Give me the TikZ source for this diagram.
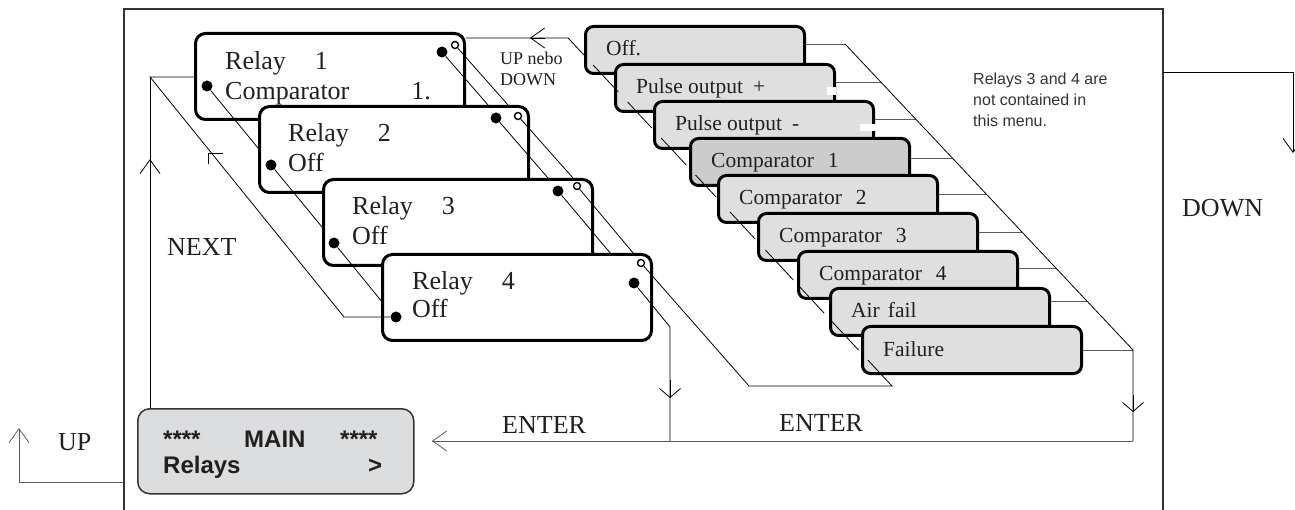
\documentclass[tikz,border=0pt]{standalone}
\usepackage{fontspec}
\setmainfont{Liberation Serif}
\setsansfont{Liberation Sans}
\usetikzlibrary{arrows.meta}
\definecolor{txt}{HTML}{231F20}
\definecolor{menufill}{HTML}{DFDFDF}
\definecolor{selfill}{HTML}{CCCCCC}
\definecolor{mainfill}{HTML}{DCDDDE}
\definecolor{framec}{HTML}{333333}
\definecolor{linec}{HTML}{5A5A5A}
\begin{document}
\begin{tikzpicture}[x=1pt,y=-1pt,
  relaybox/.style={draw=black, line width=3pt, fill=white, rounded corners=10pt, minimum width=269pt, minimum height=86pt, anchor=north west, inner sep=0pt},
  menubox/.style={draw=black, line width=3pt, fill=menufill, rounded corners=8pt, minimum width=219pt, minimum height=47pt, anchor=north west, inner sep=0pt},
  rtext/.style={anchor=base west, inner sep=0pt, text=txt, font=\fontsize{26}{26}\selectfont},
  mtext/.style={anchor=base west, inner sep=0pt, text=txt, font=\fontsize{21.5}{21.5}\selectfont},
  stext/.style={anchor=base west, inner sep=0pt, text=txt, font=\fontsize{18}{18}\selectfont},
  notetext/.style={anchor=base west, inner sep=0pt, text=framec, font=\sffamily\fontsize{16}{21}\selectfont},
  maintext/.style={anchor=base west, inner sep=0pt, text=txt, font=\sffamily\bfseries\fontsize{24}{24}\selectfont},
  dot/.style={circle, fill=black, inner sep=0pt, minimum size=11pt},
  hol/.style={circle, draw=black, fill=white, line width=1.4pt, inner sep=0pt, minimum size=7pt},
  conn/.style={line width=0.8pt, draw=black},
  gconn/.style={line width=0.9pt, draw=linec},
  arr/.style={-{Straight Barb[length=14pt,width=20pt,line width=0.8pt]}},
  sarr/.style={-{Straight Barb[length=9pt,width=21pt,line width=0.8pt]}}
]
\useasboundingbox (0,0) rectangle (1295,510);

% outer frame
\draw[framec, line width=2.5pt] (124,520) -- (124,9) -- (1163,9) -- (1163,520);

% ---------- Relay boxes ----------
\node[relaybox] (r1) at (194,32) {};
\node[rtext] (t1a) at (225,70) {Relay\hspace{29pt}1};
\node[rtext] (t1b) at (225,100) {Comparator\hspace{62pt}1.};
\node[dot] (d1l) at (207,86) {};
\node[dot] (d1r) at (442,52) {};
\node[hol] (h1) at (455,45) {};
\draw[conn] (d1l) -- (258,148);
\draw[conn] (d1r) -- (488,105);
\draw[conn] (h1) -- (508,105);

\node[relaybox] (r2) at (258,105) {};
\node[rtext] (t2a) at (288,142) {Relay\hspace{29pt}2};
\node[rtext] (t2b) at (288,172) {Off};
\node[dot] (d2l) at (271,165) {};
\node[dot] (d2r) at (496,118) {};
\node[hol] (h2) at (518,116) {};
\draw[conn] (d2l) -- (322,227);
\draw[conn] (d2r) -- (548,178);
\draw[conn] (h2) -- (573,178);

\node[relaybox] (r3) at (322,178) {};
\node[rtext] (t3a) at (352,215) {Relay\hspace{29pt}3};
\node[rtext] (t3b) at (352,245) {Off};
\node[dot] (d3l) at (334,243) {};
\node[dot] (d3r) at (558,191) {};
\node[hol] (h3) at (577,186) {};
\draw[conn] (d3l) -- (383,303);
\draw[conn] (d3r) -- (611,254);
\draw[conn] (h3) -- (634,254);

\node[relaybox] (r4) at (381,253) {};
\node[rtext] (t4a) at (412,290) {Relay\hspace{29pt}4};
\node[rtext] (t4b) at (412,318) {Off};
\node[dot] (d4l) at (396,317) {};
\node[dot] (d4r) at (634,283) {};
\node[hol] (h4) at (641,263) {};

% main screen
\node[draw=framec, line width=1.5pt, fill=mainfill, rounded corners=12pt, minimum width=276pt, minimum height=85pt, anchor=north west, inner sep=0pt] (main) at (137,408) {};
\node[maintext] (ma) at (163,447) {****};
\node[maintext] (mb) at (244,447) {MAIN};
\node[maintext] (mc) at (340,447) {****};
\node[maintext] (md) at (163,473) {Relays};
\node[maintext] (me) at (368,473) {>};

% NEXT loop
\coordinate (nc) at (150,77);
\draw[conn] (d4l) -- (344,317) -- (nc) -- (r1.west |- nc);
\draw[conn] (nc) -- (main.north west -| nc);
\draw[conn, arr] (150,200) -- (150,159);
\draw[conn] (223,153) -- (208,153) -- (208,164);

% ---------- menu boxes ----------
\node[menubox] (m1) at (584,25) {};
\node[mtext] at (606,56) {Off.};
\node[menubox] (m2) at (614,63) {};
\node[mtext] at (636,94) {Pulse output\hspace{10pt}+};
\node[menubox] (m3) at (653,100) {};
\node[mtext] at (675,131) {Pulse output\hspace{10pt}-};
\node[menubox, fill=selfill] (m4) at (689,137) {};
\node[mtext] at (711,168) {Comparator\hspace{14pt}1};
\node[menubox] (m5) at (717,174) {};
\node[mtext] at (739,205) {Comparator\hspace{14pt}2};
\node[menubox] (m6) at (757,212) {};
\node[mtext] at (779,243) {Comparator\hspace{14pt}3};
\node[menubox] (m7) at (797,250) {};
\node[mtext] at (819,281) {Comparator\hspace{14pt}4};
\node[menubox] (m8) at (829,287) {};
\node[mtext] at (851,318) {Air\hspace{8pt}fail};
\node[menubox] (m9) at (861,325) {};
\node[mtext] at (883,356) {Failure};

% white patches on right borders
\fill[white] (827,87) rectangle (836,95);
\fill[white] (860,124) rectangle (876,131);

% left chain of the menu
\coordinate (uc) at (568,38);
\draw[conn] (r1.east |- uc) -- (uc) -- (584,55);
\draw[conn, arr] (545,38) -- (530,38);
\draw[conn] (593.1,65) -- (618.3,92);
\draw[conn] (627.6,102) -- (651.8,128);
\draw[conn] (661.1,138) -- (686.2,165);
\draw[conn] (695.5,175) -- (716.0,197);
\draw[conn] (730.0,212) -- (755.1,239);
\draw[conn] (765.4,250) -- (793.3,280);
\draw[conn] (798.9,286) -- (824.0,313);
\draw[conn] (830.5,320) -- (858.5,350);
\draw[conn] (h4) -- (749,386) -- (892,386) -- (867.8,360);

% right side of the menu
\draw[gconn] (m1.east |- 0,44) -- (845,44);
\draw[gconn] (m2.east |- 0,82) -- (880.8,82);
\draw[gconn] (m3.east |- 0,119) -- (915.6,119);
\draw[gconn] (m4.east |- 0,158) -- (952.3,158);
\draw[gconn] (m5.east |- 0,194) -- (986.2,194);
\draw[gconn] (m6.east |- 0,232) -- (1021.9,232);
\draw[gconn] (m7.east |- 0,268) -- (1055.8,268);
\draw[gconn] (m8.east |- 0,301) -- (1086.8,301);
\draw[gconn] (m9.east |- 0,350) -- (1133,350);
\draw[conn] (845,44) -- (1133,350) -- (1133,441);
\draw[conn, sarr] (1133,395) -- (1133,412);

% ENTER lines
\draw[conn] (d4r) -- (670,327) -- (670,441);
\draw[conn, sarr] (670,380) -- (670,398);
\draw[gconn] (1133,441) -- (432,441);
\draw[gconn, arr] (460,441) -- (432,441);

% outside arrows
\draw[gconn] (124,482) -- (19,482) -- (19,440);
\draw[gconn, arr] (19,460) -- (19,428);
\draw[conn] (1163,72) -- (1293,72) -- (1293,130);
\draw[conn, arr] (1293,120) -- (1293,153);

% labels
\node[stext] (lud1) at (500,65) {UP nebo};
\node[stext] (lud2) at (500,86) {DOWN};
\node[rtext] (lnext) at (167,256) {NEXT};
\node[rtext] (lup) at (58,450) {UP};
\node[rtext] (len1) at (502,433) {ENTER};
\node[rtext] (len2) at (779,431) {ENTER};
\node[rtext] (ldown) at (1182,217) {DOWN};
\node[notetext] (note1) at (973,85) {Relays 3 and 4 are};
\node[notetext] (note2) at (973,106) {not contained in};
\node[notetext] (note3) at (973,127) {this menu.};
\end{tikzpicture}
\end{document}
